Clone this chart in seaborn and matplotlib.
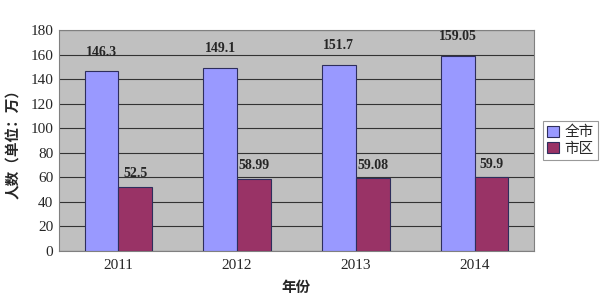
import matplotlib
matplotlib.use("Agg")
import matplotlib.pyplot as plt
import seaborn as sns
import pandas as pd

years = ["2011", "2012", "2013", "2014"]
city_total = [146.3, 149.1, 151.7, 159.05]
urban = [52.5, 58.99, 59.08, 59.9]
city_labels = ["146.3", "149.1", "151.7", "159.05"]
urban_labels = ["52.5", "58.99", "59.08", "59.9"]
series_names = ["全市", "市区"]
yticks = [0, 20, 40, 60, 80, 100, 120, 140, 160, 180]

df = pd.DataFrame({
    "year": years * 2,
    "value": city_total + urban,
    "series": [series_names[0]] * 4 + [series_names[1]] * 4,
})

sns.set_style("white")
plt.rcParams["font.family"] = ["Liberation Serif", "Noto Sans CJK SC", "DejaVu Sans"]

fig = plt.figure(figsize=(6.04, 3.02), dpi=100)
ax = fig.add_axes([59/604, 1 - 251/302, 475/604, 221/302])
ax.set_facecolor("#C0C0C0")

sns.barplot(data=df, x="year", y="value", hue="series", order=years,
            hue_order=series_names, palette=["#9999FF", "#993366"],
            saturation=1, width=0.57, edgecolor="#2E2E5C", linewidth=0.8,
            ax=ax, zorder=3)

ax.set_ylim(0, 180)
ax.set_yticks(yticks)
ax.set_yticklabels([str(t) for t in yticks], fontsize=11)
ax.yaxis.grid(True, color="#333333", linewidth=0.8, zorder=0)
ax.set_axisbelow(True)
ax.tick_params(axis="both", length=0, pad=4)
ax.tick_params(axis="x", labelsize=11, pad=6)
ax.set_xticks([0.5, 1.5, 2.5], minor=True)
ax.tick_params(axis="x", which="minor", direction="in", length=4,
               width=0.8, color="#555555")
for s in ax.spines.values():
    s.set_color("#808080")
    s.set_linewidth(0.8)

ax.bar_label(ax.containers[0], labels=city_labels, padding=9, fontsize=10,
             fontweight="bold")
ax.bar_label(ax.containers[1], labels=urban_labels, padding=4.5, fontsize=10,
             fontweight="bold")

ax.set_xlabel("年份", fontsize=10.5, fontweight="bold",
              family=["Noto Sans CJK SC", "DejaVu Sans"], labelpad=5)
ax.set_ylabel("人数（单位：万）", fontsize=10.5, fontweight="bold",
              family=["Noto Sans CJK SC", "DejaVu Sans"], labelpad=7)

leg = ax.legend(loc="center left", bbox_to_anchor=(1.003, 0.5), frameon=True,
                fancybox=False, edgecolor="#808080",
                handlelength=0.8, handleheight=0.8, handletextpad=0.4,
                borderpad=0.3, labelspacing=0.15,
                prop={"family": ["Noto Sans CJK SC", "DejaVu Sans"], "size": 10.5})
leg.get_frame().set_linewidth(0.8)

fig.savefig("out.png", dpi=100, facecolor="white")
